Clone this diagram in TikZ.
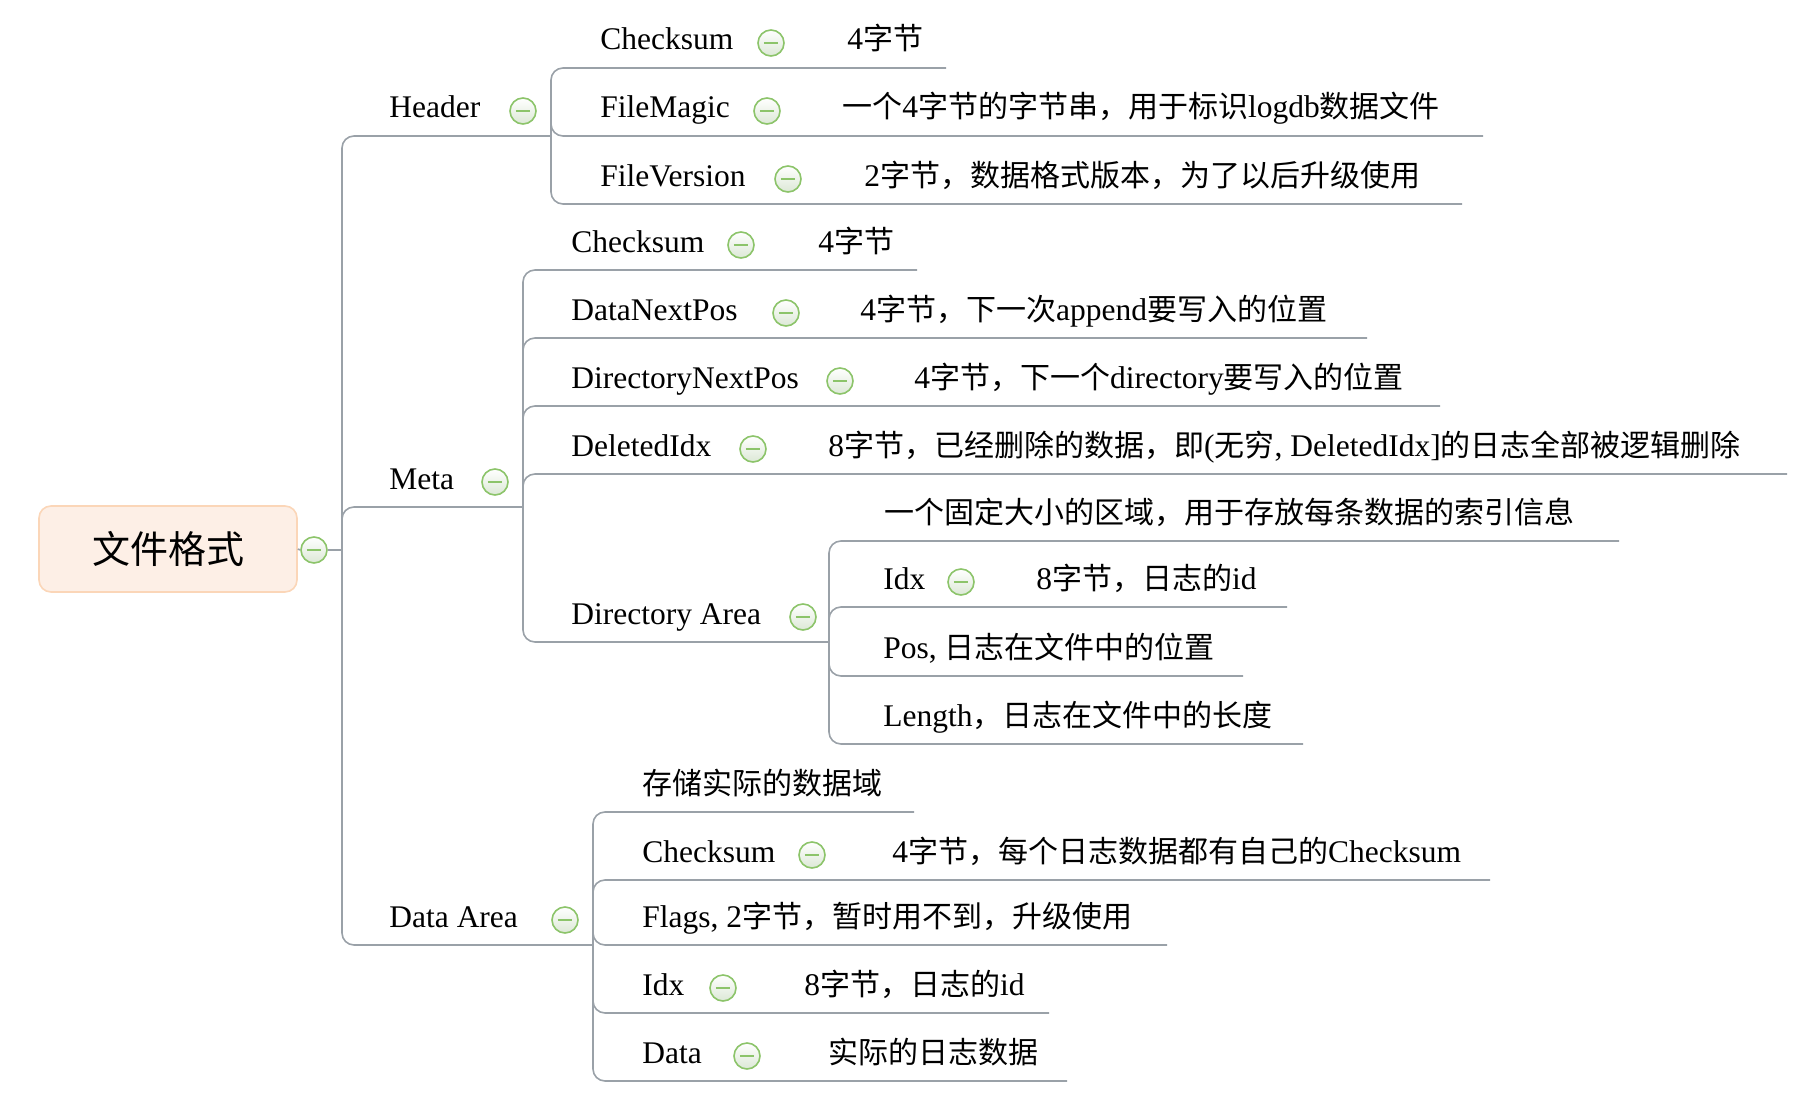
\documentclass[tikz,border=0pt]{standalone}
\usepackage{fontspec}
\setmainfont[Scale=1.05]{Liberation Serif}
\newfontfamily\zhfont{Noto Sans CJK SC}
\newcommand{\zh}[1]{{\zhfont #1}}
\usetikzlibrary{positioning}
\definecolor{linegray}{HTML}{9AA1A8}
\definecolor{btngreen}{HTML}{8CC46A}
\definecolor{btnfill}{HTML}{DCE8D6}
\definecolor{rootfill}{HTML}{FDEFE6}
\definecolor{rootdraw}{HTML}{FBD6B8}

\begin{document}
\begin{tikzpicture}[x=0.5pt,y=-0.5pt,font=\fontsize{15}{18}\selectfont]
  \tikzstyle{topic}=[anchor=base west,inner sep=0pt]
  \tikzstyle{rootbox}=[rectangle,rounded corners=6pt,draw=rootdraw,fill=rootfill,thick,
    minimum width=129pt,minimum height=43pt,font=\fontsize{19}{22}\selectfont]
  \tikzstyle{fold}=[circle,draw=btngreen,thick,top color=white,bottom color=btnfill,
    minimum size=13pt,inner sep=0pt,
    path picture={\draw[btngreen,line width=1.1pt]
      ([xshift=-3.6pt]path picture bounding box.center) --
      ([xshift=3.6pt]path picture bounding box.center);}]
  \tikzstyle{branch}=[draw=linegray,line width=0.8pt,rounded corners=6pt]

  \useasboundingbox (0,0) rectangle (1809,1113);

  % root
  \node[rootbox] (root) at (168,549) {\zh{文件格式}};
  \node[fold]    (root-f) at (314,550) {};
  \coordinate (j0) at (342,550);

  % Header
  \node[topic] (hd)   at (389,118) {Header};
  \node[fold]  (hd-f) at (523,111) {};
  \coordinate (j1) at (551,136);
  \node[topic] (hcs)   at (600,50) {Checksum};
  \node[fold]  (hcs-f) at (771,43) {};
  \node[topic] (hcs-v) at (847,50) {4\zh{字节}};
  \coordinate (hcs-e) at (946,68);
  \node[topic] (hfm)   at (600,118) {FileMagic};
  \node[fold]  (hfm-f) at (767,111) {};
  \node[topic] (hfm-v) at (842,118) {\zh{一个}4\zh{字节的字节串，用于标识}logdb\zh{数据文件}};
  \coordinate (hfm-e) at (1483,136);
  \node[topic] (hfv)   at (600,186) {FileVersion};
  \node[fold]  (hfv-f) at (788,179) {};
  \node[topic] (hfv-v) at (864,186) {2\zh{字节，数据格式版本，为了以后升级使用}};
  \coordinate (hfv-e) at (1462,204);

  % Meta
  \node[topic] (mt)   at (389,489) {Meta};
  \node[fold]  (mt-f) at (495,482) {};
  \coordinate (j2) at (523,507);
  \node[topic] (mcs)   at (571,252) {Checksum};
  \node[fold]  (mcs-f) at (741,245) {};
  \node[topic] (mcs-v) at (818,252) {4\zh{字节}};
  \coordinate (mcs-e) at (917,270);
  \node[topic] (mdn)   at (571,320) {DataNextPos};
  \node[fold]  (mdn-f) at (786,313) {};
  \node[topic] (mdn-v) at (860,320) {4\zh{字节，下一次}append\zh{要写入的位置}};
  \coordinate (mdn-e) at (1367,338);
  \node[topic] (mdr)   at (571,388) {DirectoryNextPos};
  \node[fold]  (mdr-f) at (840,381) {};
  \node[topic] (mdr-v) at (914,388) {4\zh{字节，下一个}directory\zh{要写入的位置}};
  \coordinate (mdr-e) at (1440,406);
  \node[topic] (mdi)   at (571,456) {DeletedIdx};
  \node[fold]  (mdi-f) at (753,449) {};
  \node[topic] (mdi-v) at (828,456) {8\zh{字节，已经删除的数据，即}(\zh{无穷}, DeletedIdx]\zh{的日志全部被逻辑删除}};
  \coordinate (mdi-e) at (1787,474);

  % Directory Area
  \node[topic] (da)   at (571,624) {Directory Area};
  \node[fold]  (da-f) at (803,617) {};
  \coordinate (j3) at (829,642);
  \node[topic] (dds) at (884,523) {\zh{一个固定大小的区域，用于存放每条数据的索引信息}};
  \coordinate (dds-e) at (1619,541);
  \node[topic] (dix)   at (883,589) {Idx};
  \node[fold]  (dix-f) at (961,582) {};
  \node[topic] (dix-v) at (1036,589) {8\zh{字节，日志的}id};
  \coordinate (dix-e) at (1287,607);
  \node[topic] (dps) at (883,658) {Pos, \zh{日志在文件中的位置}};
  \coordinate (dps-e) at (1243,676);
  \node[topic] (dln) at (883,726) {Length\zh{，日志在文件中的长度}};
  \coordinate (dln-e) at (1303,744);

  % Data Area
  \node[topic] (xa)   at (389,927) {Data Area};
  \node[fold]  (xa-f) at (565,920) {};
  \coordinate (j4) at (593,945);
  \node[topic] (xds) at (642,794) {\zh{存储实际的数据域}};
  \coordinate (xds-e) at (914,812);
  \node[topic] (xcs)   at (642,862) {Checksum};
  \node[fold]  (xcs-f) at (812,855) {};
  \node[topic] (xcs-v) at (892,862) {4\zh{字节，每个日志数据都有自己的}Checksum};
  \coordinate (xcs-e) at (1490,880);
  \node[topic] (xfl) at (642,927) {Flags, 2\zh{字节，暂时用不到，升级使用}};
  \coordinate (xfl-e) at (1167,945);
  \node[topic] (xix)   at (642,995) {Idx};
  \node[fold]  (xix-f) at (723,988) {};
  \node[topic] (xix-v) at (804,995) {8\zh{字节，日志的}id};
  \coordinate (xix-e) at (1049,1013);
  \node[topic] (xdt)   at (642,1063) {Data};
  \node[fold]  (xdt-f) at (747,1056) {};
  \node[topic] (xdt-v) at (828,1063) {\zh{实际的日志数据}};
  \coordinate (xdt-e) at (1067,1081);

  % connectors
  \draw[branch] (root.east) -- (root-f.west);
  \draw[branch] (root-f.east) -- (j0);
  \draw[branch] (j0) |- (j1);
  \draw[branch] (j0) |- (j2);
  \draw[branch] (j0) |- (j4);
  \foreach \t in {hcs,hfm,hfv} \draw[branch] (j1) |- (\t-e);
  \foreach \t in {mcs,mdn,mdr,mdi} \draw[branch] (j2) |- (\t-e);
  \draw[branch] (j2) |- (j3);
  \foreach \t in {dds,dix,dps,dln} \draw[branch] (j3) |- (\t-e);
  \foreach \t in {xds,xcs,xfl,xix,xdt} \draw[branch] (j4) |- (\t-e);
\end{tikzpicture}
\end{document}
